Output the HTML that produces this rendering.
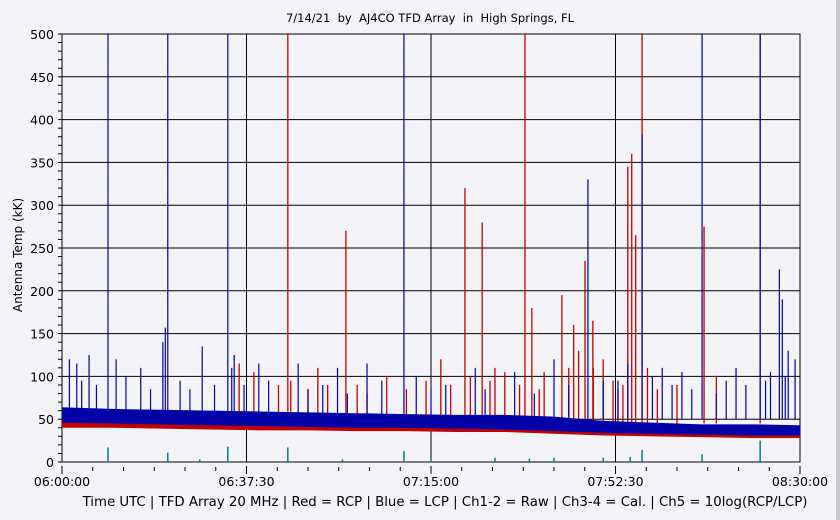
<!DOCTYPE html>
<html><head><meta charset="utf-8"><style>
body{margin:0;background:#f4f4f8;}
svg{display:block;font-family:"DejaVu Sans","Liberation Sans",sans-serif;}
text{white-space:pre;}
</style></head><body>
<svg id="chart" width="840" height="520">
<rect x="0" y="0" width="840" height="520" fill="#f4f4f8"/>
<rect x="836" y="0" width="4" height="520" fill="#c8c8cc"/>
<text x="430" y="22" font-size="11.5" text-anchor="middle" fill="#000" xml:space="preserve">7/14/21  by  AJ4CO TFD Array  in  High Springs, FL</text>
<text transform="translate(22,255) rotate(-90)" font-size="12" text-anchor="middle">Antenna Temp (kK)</text>
<text x="445" y="506" font-size="13.3" text-anchor="middle">Time UTC | TFD Array 20 MHz | Red = RCP | Blue = LCP | Ch1-2 = Raw | Ch3-4 = Cal. | Ch5 = 10log(RCP/LCP)</text>
<g id="grid"></g><g id="series"></g><g id="axes"></g>
</svg>
<script>
const xTickLabels=["06:00:00","06:37:30","07:15:00","07:52:30","08:30:00"];
const yTicks=[0,50,100,150,200,250,300,350,400,450,500];
const bandT=[0,10,20,30,40,50,60,70,80,90,100,110,120,130,140,150];
const blueLo=[46,45,44,43,42,41,40,40,39,38,36,34,33,32,31,31];
const blueHi=[64,62,61,60,59,58,57,56,55,55,53,48,46,44,44,43];
const redLo=[40,40,39,38,37,37,36,36,35,35,33,31,30,29,28,28];
const redHi=[50,49,48,47,46,45,45,45,44,44,42,39,37,36,36,35];
const redSpikeT=[45.9,57.7,81.9,85.4,94.1,95.5,101.6,106.3,107.9,115.0,115.8,116.6,117.9,130.5,133.0,141.9,2.0,36,39,52,60,66,74,77,88,90,98,104,110,112,44,46.5,50,54,62,70,79,83,87,93,97,103,105,108,113,114,119,121,125];
const redSpikeV=[500,270,320,280,500,180,195,235,165,345,360,265,500,275,100,500,60,115,105,110,90,100,95,120,110,105,105,160,120,95,90,95,85,90,80,85,90,100,95,90,85,110,130,110,85,90,110,85,90];
const blueSpikeT=[9.35,21.5,33.7,69.5,117.9,130.1,141.9,106.9,21.0,145.8,146.4,147.6,1.5,5.5,11,16,28.5,35,40,48,56,62,72,84,92,100,110,115,122,126,137,149,3,4,7,13,18,20.5,24,26,31,34.5,37,42,50,53,58,65,75,78,86,96,103,113,120,124,128,133,135,139,143,144,147];
const blueSpikeV=[500,500,500,500,383,500,500,330,157,225,190,130,120,125,120,110,135,125,115,115,110,115,100,110,105,120,95,115,110,105,110,120,115,95,90,100,85,140,95,85,90,110,90,95,85,90,80,95,85,90,85,80,90,95,100,90,85,80,95,90,95,105,100];
const tealT=[9.35,21.5,33.7,45.9,69.5,117.9,130.1,141.9,88,110,28,57,75,95,100,115.5];
const tealV=[17,11,18,17,13,14,9,25,5,5,3,3,4,4,5,6];

const X0=62,X1=800,Y0=462,Y1=34,T=150,V=500;
const xs=t=>X0+t/T*(X1-X0), ys=v=>Y0-v/V*(Y0-Y1);
const NS="http://www.w3.org/2000/svg";
function mk(tag,parent,attrs){const e=document.createElementNS(NS,tag);for(const k in attrs)e.setAttribute(k,attrs[k]);parent.appendChild(e);return e;}
const grid=document.getElementById('grid'),ser=document.getElementById('series'),ax=document.getElementById('axes');
mk('rect',grid,{x:X0,y:Y1,width:X1-X0,height:Y0-Y1,fill:'#f4f4f8',stroke:'#000'});
yTicks.forEach(v=>{const l=mk('line',grid,{x1:X0,x2:X1,y1:ys(v),y2:ys(v),stroke:'#000','stroke-width':1});


const t=mk('text',ax,{x:X0-8,y:ys(v)+5,'font-size':12.5,'text-anchor':'end'});t.textContent=v;

});
for(let v=0;v<=500;v+=10){mk('line',ax,{x1:X0-4,x2:X0,y1:ys(v),y2:ys(v),stroke:'#000'});}
xTickLabels.forEach((s,i)=>{const x=xs(i*T/(xTickLabels.length-1));
const l=mk('line',grid,{x1:x,x2:x,y1:Y1,y2:Y0,stroke:'#000'});


mk('line',ax,{x1:x,x2:x,y1:Y0+4,y2:Y0+12,stroke:'#000'});
const t=mk('text',ax,{x:x,y:Y0+24,'font-size':12.5,'text-anchor':'middle'});t.textContent=s;

});
for(let k=0;k<=24;k++){const x=xs(k*T/24);mk('line',ax,{x1:x,x2:x,y1:Y0+5,y2:Y0+9,stroke:'#000'});}
function band(lo,hi,color,name){let p=bandT.map((t,i)=>xs(t)+','+ys(hi[i]));p=p.concat(bandT.map((t,i)=>xs(t)+','+ys(lo[i])).reverse());
const e=mk('polygon',ser,{points:p.join(' '),fill:color});

}
function spikes(ts,vs,base,color,name,w){ts.forEach((t,i)=>{const e=mk('line',ser,{x1:xs(t),x2:xs(t),y1:ys(base),y2:ys(Math.min(vs[i],V)),stroke:color,'stroke-width':w});

});}
band(redLo,redHi,'#c00000','rcp-band');
spikes(redSpikeT,redSpikeV,45,'#c00000','rcp-spike',1.3);
band(blueLo,blueHi,'#0000a8','lcp-band');
spikes(blueSpikeT,blueSpikeV,50,'#0000a0','lcp-spike',1.2);
spikes(tealT,tealV,0,'#008080','ratio-spike',1.5);
</script>
</body></html>
